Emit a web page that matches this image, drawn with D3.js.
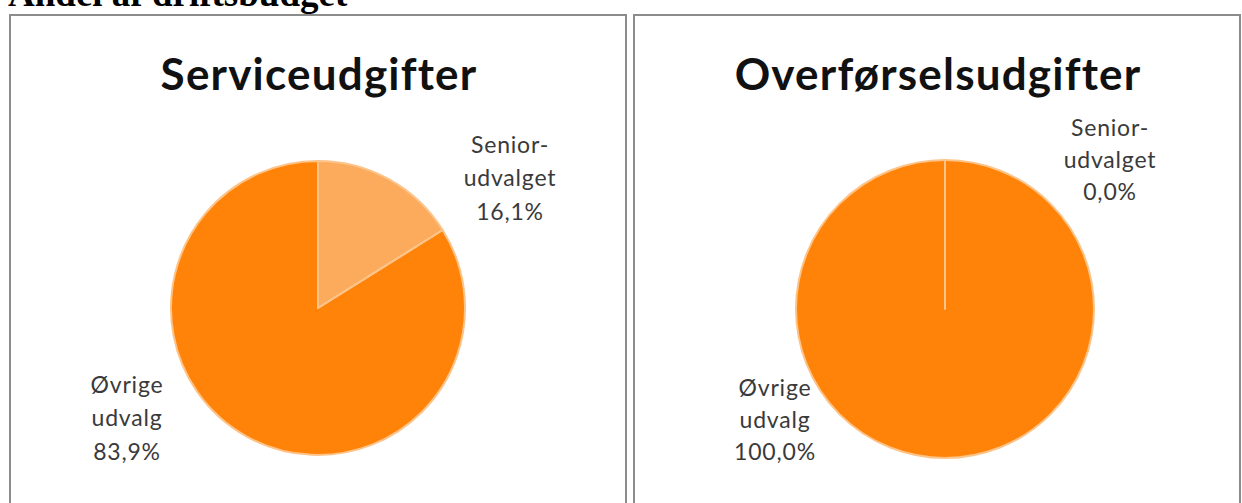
<!DOCTYPE html>
<html>
<head>
<meta charset="utf-8">
<script src="https://cdn.jsdelivr.net/npm/d3@7"></script>
<style>
  body { margin: 0; background: #fff; }
  svg { display: block; }
</style>
</head>
<body>
<div id="chart"></div>
<script>
// data
const heading = "Andel af driftsbudget";
const chartTitles = ["Serviceudgifter", "Overførselsudgifter"];
const categories = ["Senior-udvalget", "Øvrige udvalg"];
const labelLines = [["Senior-", "udvalget"], ["Øvrige", "udvalg"]];
const serviceValues = [16.1, 83.9];
const transferValues = [0.0, 100.0];

const W = 1242, H = 503;
const svg = d3.select("#chart").append("svg").attr("width", W).attr("height", H);

// heading, cut off at top like the screenshot
svg.append("text")
  .attr("x", 8).attr("y", 6)
  .style("font-family", "'Liberation Serif', 'Times New Roman', serif")
  .style("font-weight", "bold")
  .style("font-size", "37px")
  .text(heading);

const panels = [
  {x: 10, w: 616, cx: 318, cy: 308, r: 147, title: chartTitles[0], values: serviceValues,
   labelPos: [[192, -130], [-191, 110]], step: 33.5},
  {x: 634, w: 606, cx: 945, cy: 309, r: 149, title: chartTitles[1], values: transferValues,
   labelPos: [[165, -149], [-170, 111]], step: 32}
];

const color = d3.scaleOrdinal().domain(categories).range(["#fcaa5c", "#ff8309"]);
const fmt = v => d3.format(".1f")(v).replace(".", ",") + "%";

const pie = d3.pie().sort(null).value(d => d.value);

panels.forEach(p => {
  const g = svg.append("g");

  g.append("rect")
    .attr("x", p.x).attr("y", 15)
    .attr("width", p.w).attr("height", H)
    .attr("fill", "#fff")
    .attr("stroke", "#8c8c8c")
    .attr("stroke-width", 2);

  g.append("text")
    .attr("x", p.x + p.w / 2 + 1)
    .attr("y", 90)
    .attr("text-anchor", "middle")
    .style("font-family", "Lato, 'Open Sans', sans-serif")
    .style("font-weight", "bold")
    .style("font-size", "44px")
    .style("letter-spacing", "1.2px")
    .style("fill", "#111")
    .text(p.title);

  const data = categories.map((c, i) => ({cat: c, value: p.values[i], idx: i}));
  const arc = d3.arc().innerRadius(0).outerRadius(p.r);
  const arcs = pie(data);

  const pg = g.append("g").attr("transform", `translate(${p.cx},${p.cy})`);

  pg.selectAll("path.slice")
    .data(arcs)
    .join("path")
    .attr("class", "slice")
    .attr("d", arc)
    .attr("fill", d => color(d.data.cat));

  // light slice borders on top (so a 0 % slice still shows its line)
  pg.selectAll("path.edge")
    .data(arcs)
    .join("path")
    .attr("class", "edge")
    .attr("d", arc)
    .attr("fill", "none")
    .attr("stroke", "#fdc48a")
    .attr("stroke-width", 2)
    .attr("stroke-linejoin", "round");

  // labels
  data.forEach((d, i) => {
    const lines = labelLines[i].concat([fmt(d.value)]);
    const [dx, dy] = p.labelPos[i];
    const t = pg.append("text")
      .attr("text-anchor", "middle")
      .style("font-family", "Lato, 'Open Sans', sans-serif")
      .style("font-size", "23px")
      .style("letter-spacing", "0.8px")
      .style("fill", "#3a3a3a");
    lines.forEach((ln, k) => {
      t.append("tspan")
        .attr("x", dx)
        .attr("y", dy + (k - 1) * p.step + 8)
        .text(ln);
    });
  });
});
</script>
</body>
</html>
